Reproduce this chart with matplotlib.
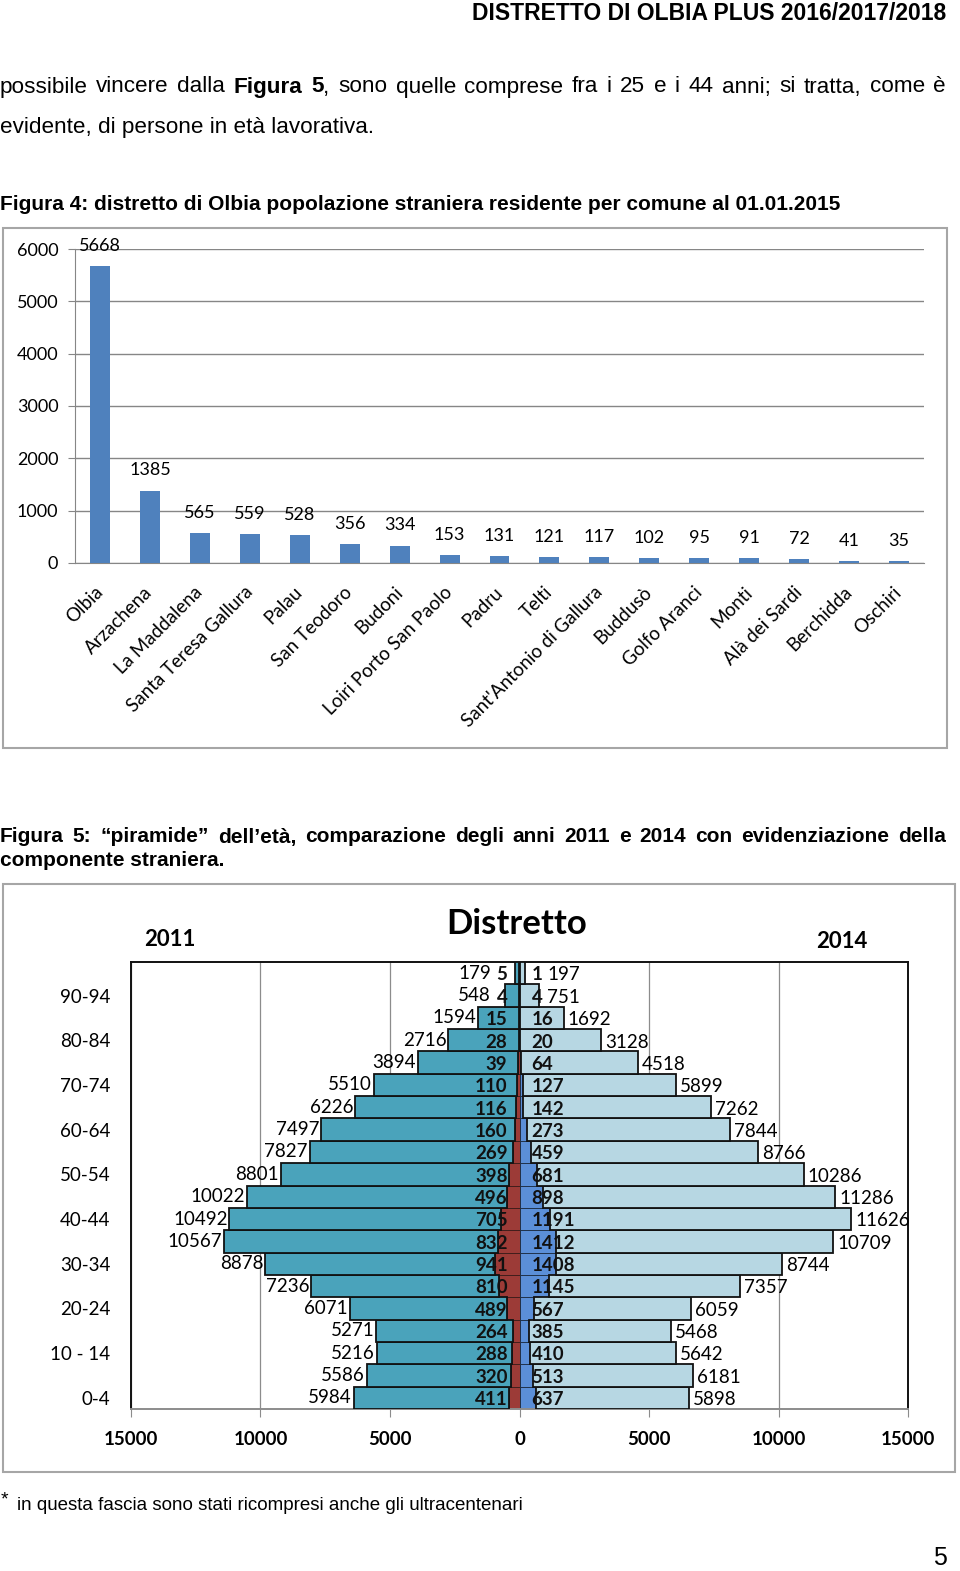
import matplotlib
matplotlib.use("Agg")
import matplotlib.pyplot as plt
from matplotlib.patches import Rectangle
import numpy as np

W, H = 960, 1571
BODY = "Liberation Sans"
CHART = "Lato"

# Figura 4 data
comuni = ["Olbia", "Arzachena", "La Maddalena", "Santa Teresa Gallura", "Palau",
          "San Teodoro", "Budoni", "Loiri Porto San Paolo", "Padru", "Telti",
          "Sant'Antonio di Gallura", "Buddusò", "Golfo Aranci", "Monti",
          "Alà dei Sardi", "Berchidda", "Oschiri"]
stranieri = [5668, 1385, 565, 559, 528, 356, 334, 153, 131, 121, 117, 102, 95, 91, 72, 41, 35]

# Figura 5 data (bottom to top)
eta = ["0-4", "5-9", "10 - 14", "15-19", "20-24", "25-29", "30-34", "35-39", "40-44",
       "45-49", "50-54", "55-59", "60-64", "65-69", "70-74", "75-79", "80-84", "85-89",
       "90-94", "95+"]
ita_2011 = [5984, 5586, 5216, 5271, 6071, 7236, 8878, 10567, 10492, 10022, 8801, 7827,
            7497, 6226, 5510, 3894, 2716, 1594, 548, 179]
str_2011 = [411, 320, 288, 264, 489, 810, 941, 832, 705, 496, 398, 269, 160, 116, 110,
            39, 28, 15, 4, 5]
str_2014 = [637, 513, 410, 385, 567, 1145, 1408, 1412, 1191, 898, 681, 459, 273, 142,
            127, 64, 20, 16, 4, 1]
ita_2014 = [5898, 6181, 5642, 5468, 6059, 7357, 8744, 10709, 11626, 11286, 10286, 8766,
            7844, 7262, 5899, 4518, 3128, 1692, 751, 197]


def fx(px):
    return px / W


def fy(py):
    return 1 - py / H


def rect(x0, y0, x1, y1):
    return [fx(x0), fy(y1), (x1 - x0) / W, (y1 - y0) / H]


fig = plt.figure(figsize=(W / 100, H / 100), dpi=100)
fig.patch.set_facecolor("white")
renderer = fig.canvas.get_renderer()


def justify(words, y, size, x0=0, x1=946):
    # words: list of words, each a list of (text, weight) pieces
    pieces = []
    for w in words:
        ts = [fig.text(0, fy(y), s, fontsize=size, fontweight=wt, family=BODY, va="center")
              for s, wt in w]
        pieces.append(ts)
    widths = [[t.get_window_extent(renderer).width for t in ts] for ts in pieces]
    total = sum(sum(ws) for ws in widths)
    gap = (x1 - x0 - total) / (len(words) - 1)
    x = x0
    for ts, ws in zip(pieces, widths):
        for t, w in zip(ts, ws):
            t.set_x(fx(x))
            x += w
        x += gap


# page text
fig.text(fx(946), fy(14), "DISTRETTO DI OLBIA PLUS 2016/2017/2018", fontsize=16.5,
         fontweight="bold", family=BODY, ha="right", va="center")

words = [[(w, "normal")] for w in "possibile vincere dalla".split()]
words.append([("Figura", "bold")])
words.append([("5", "bold"), (",", "normal")])
words += [[(w, "normal")] for w in "sono quelle comprese fra i 25 e i 44 anni; si tratta, come è".split()]
justify(words, 87, 16.2)
fig.text(0, fy(127), "evidente, di persone in età lavorativa.", fontsize=16.2, family=BODY, va="center")

fig.text(0, fy(204), "Figura 4: distretto di Olbia popolazione straniera residente per comune al 01.01.2015",
         fontsize=15, fontweight="bold", family=BODY, va="center")

cap = "Figura 5: \u201cpiramide\u201d dell\u2019età, comparazione degli anni 2011 e 2014 con evidenziazione della"
justify([[(w, "bold")] for w in cap.split()], 837, 15)
fig.text(0, fy(860), "componente straniera.", fontsize=15, fontweight="bold", family=BODY, va="center")

fig.text(fx(1), fy(1500), "*", fontsize=14, family=BODY, va="center")
fig.text(fx(17), fy(1505), "in questa fascia sono stati ricompresi anche gli ultracentenari",
         fontsize=13.5, family=BODY, va="center")
fig.text(fx(940), fy(1558), "5", fontsize=18, family=BODY, ha="center", va="center")

# chart frames
for x0, y0, x1, y1 in [(3, 228, 947, 748), (3, 884, 955, 1472)]:
    fig.patches.append(Rectangle((fx(x0), fy(y1)), (x1 - x0) / W, (y1 - y0) / H,
                                 transform=fig.transFigure, fill=False,
                                 edgecolor="#a6a6a6", linewidth=1.5))

# Figura 4 bar chart
ax = fig.add_axes(rect(75, 249, 924, 563))
x = np.arange(len(comuni))
ax.bar(x, stranieri, width=0.4, color="#4f81bd", zorder=3)
ax.set_xlim(-0.5, len(comuni) - 0.5)
ax.set_ylim(0, 6000)
ax.set_yticks(range(0, 6001, 1000))
ax.yaxis.grid(True, color="#868686", linewidth=1, zorder=0)
for s in ["top", "right"]:
    ax.spines[s].set_visible(False)
for s in ["left", "bottom"]:
    ax.spines[s].set_color("#868686")
ax.tick_params(axis="y", length=5, color="#868686", labelsize=13, pad=7)
ax.tick_params(axis="x", length=0, labelsize=13.5, pad=19)
ax.set_xticks(x)
ax.set_xticklabels(comuni, rotation=45, ha="right", va="center", rotation_mode="anchor",
                   family=CHART)
for lbl in ax.get_yticklabels():
    lbl.set_family(CHART)
for i, v in enumerate(stranieri):
    ax.annotate(str(v), (i, v), xytext=(0, 14.5), textcoords="offset points",
                ha="center", va="center", fontsize=13, family=CHART)

# Figura 5 pyramid
TEAL = "#4aa3bb"
RED = "#9c3b37"
LIGHT = "#b7d7e3"
BLUE = "#5b8fd8"

ay = fig.add_axes(rect(131, 962, 908, 1409))
y = np.arange(len(eta))
ay.set_xlim(-15000, 15000)
ay.set_ylim(-0.5, len(eta) - 0.5)
ay.xaxis.grid(True, color="#8c8c8c", linewidth=0.9, zorder=0)
ay.set_axisbelow(True)

tot11 = np.array(ita_2011) + np.array(str_2011)
tot14 = np.array(ita_2014) + np.array(str_2014)
ay.barh(y, -np.array(ita_2011), left=-np.array(str_2011), height=1.0, color=TEAL,
        edgecolor="#111111", linewidth=1.3, zorder=3)
ay.barh(y, -np.array(str_2011), height=1.0, color=RED, edgecolor="#3a1a18",
        linewidth=0.6, zorder=2)
ay.barh(y, ita_2014, left=str_2014, height=1.0, color=LIGHT,
        edgecolor="#111111", linewidth=1.3, zorder=3)
ay.barh(y, str_2014, height=1.0, color=BLUE, edgecolor="#1a2a40",
        linewidth=0.6, zorder=2)

unit = 30000 / 777  # data units per pixel
for i in range(len(eta)):
    fl = 12 * unit
    ay.text(-fl, i - 0.08, str(str_2011[i]), ha="right", va="center", fontsize=13.5,
            fontweight="bold", family=CHART, color="#111111", zorder=5)
    ay.text(fl, i - 0.08, str(str_2014[i]), ha="left", va="center", fontsize=13.5,
            fontweight="bold", family=CHART, color="#111111", zorder=5)
    wl = fl + len(str(str_2011[i])) * 9.5 * unit + 7 * unit
    wr = fl + len(str(str_2014[i])) * 9.5 * unit + 6 * unit
    xl = max(tot11[i] + 2 * unit, wl)
    xr = max(tot14[i] + 4 * unit, wr)
    ay.text(-xl, i, str(ita_2011[i]), ha="right", va="center", fontsize=13.5,
            family=CHART, zorder=5)
    ay.text(xr, i - 0.08, str(ita_2014[i]), ha="left", va="center", fontsize=13.5,
            family=CHART, zorder=5)

ay.set_yticks(y[::2])
ay.set_yticklabels(eta[::2], family=CHART, fontsize=13.5)
ay.tick_params(axis="y", length=0, pad=15)
ticks = np.arange(-15000, 15001, 5000)
ay.set_xticks(ticks)
ay.set_xticklabels([str(abs(t)) for t in ticks], family=CHART, fontsize=13.5, fontweight="bold")
ay.tick_params(axis="x", length=6, color="#8c8c8c", pad=9.5)
for s in ["top", "right", "left"]:
    ay.spines[s].set_color("#111111")
    ay.spines[s].set_linewidth(1.4)
ay.spines["bottom"].set_color("#8c8c8c")
ay.spines["bottom"].set_linewidth(1.4)

fig.text(fx(517), fy(924), "Distretto", fontsize=25, fontweight="bold", family=CHART,
         ha="center", va="center")
fig.text(fx(170), fy(939), "2011", fontsize=16, fontweight="bold", family=CHART,
         ha="center", va="center")
fig.text(fx(842), fy(942), "2014", fontsize=16, fontweight="bold", family=CHART,
         ha="center", va="center")

fig.savefig("out.png", dpi=100)
